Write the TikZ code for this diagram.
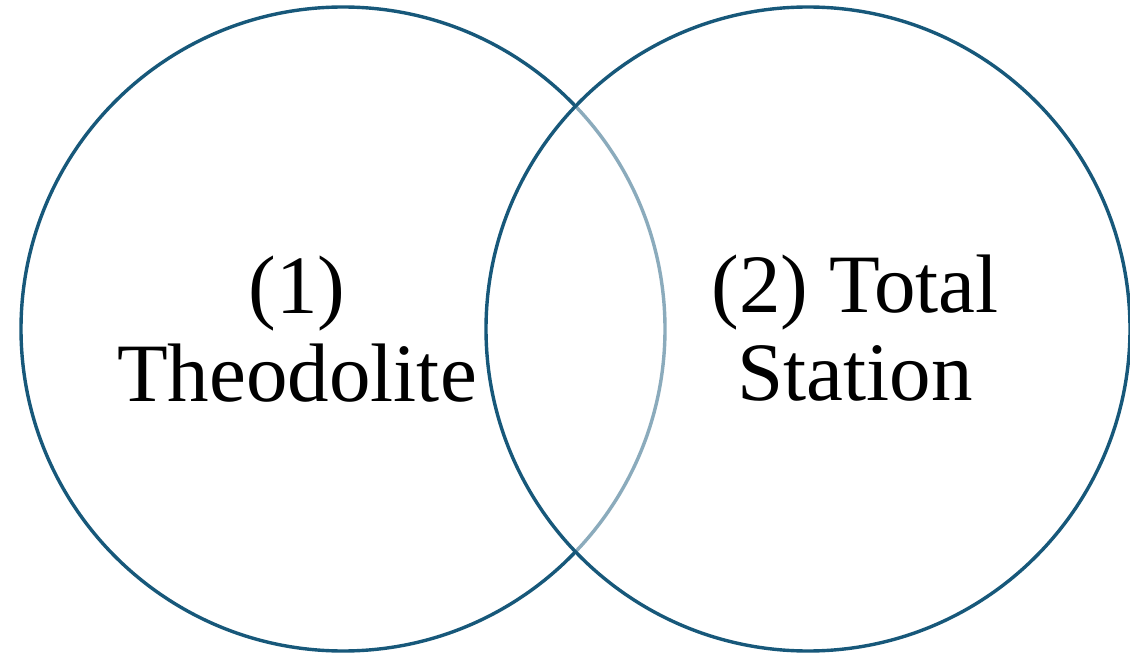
\documentclass[tikz,border=0pt]{standalone}
\usepackage{fontspec}
\setmainfont{Liberation Serif}
\definecolor{ring}{HTML}{17587A}
\begin{document}
\begin{tikzpicture}[x=1pt,y=-1pt,
  ringstyle/.style={draw=ring,line width=3.4pt},
  label/.style={align=center,anchor=base,inner sep=0pt,font=\fontsize{83}{88}\selectfont}]
\useasboundingbox (0,0) rectangle (1130,655);
\fill[white] (0,0) rectangle (1130,655);
\draw[ringstyle] (343,329) circle[radius=322];
\fill[white,fill opacity=0.5] (808,329) circle[radius=322];
\draw[ringstyle] (808,329) circle[radius=322];
\node[label] (theo) at (297,401) {(1)\\Theodolite};
\node[label] (total) at (855,400) {(2) Total\\Station};
\end{tikzpicture}
\end{document}
